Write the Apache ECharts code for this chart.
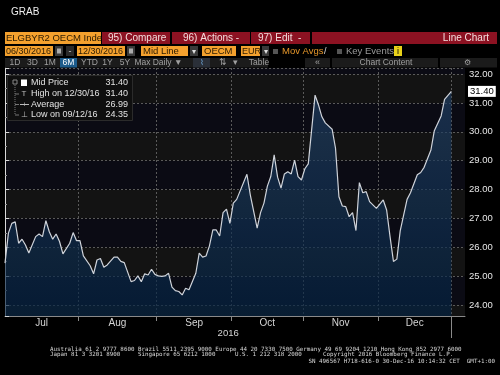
<!DOCTYPE html>
<html><head><meta charset="utf-8">
<script src="https://cdn.jsdelivr.net/npm/echarts@6/dist/echarts.min.js"></script>
<style>html,body{margin:0;padding:0;background:#000;}#c{width:500px;height:375px;}</style>
</head><body><div id="c"></div>
<script>
// trading-day index (0 = 06/30/2016, 131 = 12/30/2016) and mid price
const dayIndex = [0,1,2,3,4,5,6,7,9,10,11,12,13,14,15,16,17,19,20,21,22,23,25,26,27,28,29,30,32,33,34,35,37,38,39,40,41,42,43,44,45,46,47,48,49,50,51,52,53,54,56,57,58,59,60,61,62,63,64,65,66,67,68,71,72,74,75,76,77,78,79,80,81,82,83,84,85,86,87,88,89,91,92,93,94,96,97,98,99,100,101,102,103,104,105,106,107,109,111,112,113,114,115,116,118,119,121,122,123,125,126,128,129,131];
const midPrice = [25.45,26.49,26.83,26.88,26.14,26.28,26.08,25.80,26.37,26.46,26.37,26.92,26.54,26.28,26.46,26.20,25.77,26.14,26.51,26.23,26.23,25.70,25.36,25.08,25.56,25.61,25.31,25.39,25.66,25.66,25.51,25.47,24.81,24.85,25.01,24.81,25.08,25.04,25.24,25.06,25.01,24.99,25.01,25.10,24.62,24.50,24.47,24.35,24.58,24.53,25.10,25.80,25.66,25.70,26.05,26.60,26.60,26.39,27.20,27.32,26.83,27.53,27.66,28.53,27.81,26.66,27.20,27.53,28.12,28.45,29.20,28.43,28.05,28.54,28.62,28.54,29.02,28.45,28.33,28.72,28.89,31.27,30.93,30.52,30.31,30.09,29.43,27.75,27.43,27.41,27.06,27.20,26.58,28.24,27.89,27.93,27.58,27.35,27.64,27.29,26.37,25.51,25.59,26.58,27.66,27.89,28.51,28.59,28.77,29.37,30.04,30.55,31.12,31.40];
const monthNames = ['Jul','Aug','Sep','Oct','Nov','Dec'];
const monthBounds = [0,21.5,44.5,66.5,87.5,109.5,131];
const yearLabel = '2016';
const statsLabels = ['Mid Price','High on 12/30/16','Average','Low on 09/12/16'];
const statsValues = ['31.40','31.40','26.99','24.35'];

const monthMids = monthNames.map((m,i)=>(monthBounds[i]+monthBounds[i+1])/2);
const lastVal = midPrice[midPrice.length-1];

const FONT = 'Liberation Sans';
function box(x,y,w,h,fill,stroke){return {type:'rect',silent:true,z:100,shape:{x:x,y:y,width:w,height:h},style:{fill:fill,stroke:stroke||null,lineWidth:1}};}
function txt(x,y,s,color,size,align,font){return {type:'text',silent:true,z:101,x:x,y:y,style:{text:s,fill:color,fontSize:size,fontFamily:font||FONT,align:align||'left',verticalAlign:'middle'}};}
function seg(x1,y1,x2,y2,color,dash){return {type:'line',silent:true,z:101,shape:{x1:x1,y1:y1,x2:x2,y2:y2},style:{stroke:color,lineWidth:1,lineDash:dash||null}};}

const OR='#f4a12e', RED='#8c1222', DK='#2a1a00', BTN='#1b1b1b', BT='#a0a0a0';
const g = [];
g.push(txt(11,12.5,'GRAB','#eeeeee',10));
// row 1
g.push(box(5,32,96,12,OR), txt(6,38.5,'ELGBYR2 OECM Inde',DK,9.5));
g.push(box(102,32,68,12,RED), txt(108,38.5,'95) Compare','#f3dede',10));
g.push(box(172,32,78,12,RED), txt(183,38.5,'96) Actions -','#f3dede',10));
g.push(box(251,32,59,12,RED), txt(258,38.5,'97) Edit  -','#f3dede',10));
g.push(box(312,32,185,12,RED), txt(489,38.5,'Line Chart','#f3dede',10,'right'));
// row 2
g.push(box(5,46,48,10,OR), txt(6,51.5,'06/30/2016',DK,9));
g.push(box(55,46,8,10,'#3a3a3a'), box(57,48.5,4,5,'#aaaaaa'));
g.push(box(66,46,8,10,'#2a2a2a'), txt(70,51.5,'-','#cccccc',9,'center'));
g.push(box(77,46,48,10,OR), txt(78,51.5,'12/30/2016',DK,9));
g.push(box(127,46,8,10,'#3a3a3a'), box(129,48.5,4,5,'#aaaaaa'));
g.push(box(141,46,47,10,OR), txt(143,51.5,'Mid Line',DK,9.5));
g.push(box(190,46,8,10,'#3a3a3a'), txt(194,51.5,'▾','#dddddd',8,'center'));
g.push(box(202,46,34,10,OR), txt(204,51.5,'OECM',DK,9.5));
g.push(box(241,46,19,10,OR), txt(242,51.5,'EUR',DK,9));
g.push(box(262,46,7,10,'#3a3a3a'), txt(265.5,51.5,'▾','#dddddd',8,'center'));
g.push(box(273,49,5,5,'#555555'), txt(282,51.5,'Mov Avgs','#e5962a',9.5), txt(324,51.5,'/','#dddddd',9));
g.push(box(337,49,5,5,'#555555'), txt(346,51.5,'Key Events','#9a9a9a',9.5));
g.push(box(394,46,8,10,'#e8d21a'), txt(398,51.5,'i','#000000',9,'center'));
// row 3
g.push(box(5,58,245,9.5,BTN));
[['1D',15],['3D',32.5],['1M',50],['YTD',89.5],['1Y',107.5],['5Y',125],['Max',142.5],['Daily ▼',167.5],['⇅',223],['▾',235.5]].forEach(function(b){g.push(txt(b[1],63,b[0],BT,8.5,'center'));});
g.push(box(60,58,17,9.5,'#1d5c8c'), txt(68.5,63,'6M','#ffffff',8.5,'center'));
g.push(box(193,58,17,9.5,'#2a2f38'), txt(201.5,63,'⌇','#6fa8dc',8,'center'));
g.push(box(250,58,18,9.5,BTN), txt(259,63,'Table',BT,8.5,'center'));
g.push(box(305,58,25,9.5,BTN), txt(317.5,63,'«',BT,9,'center'));
g.push(box(332,58,106,9.5,BTN), txt(386,63,'Chart Content',BT,8.5,'center'));
g.push(box(440,58,57,9.5,BTN), txt(467,63,'⚙',BT,8,'center'));
// legend panel
g.push(box(7.5,75.5,125,45,'#0f0f0f','#2b2b2b'));
g.push(box(13,80,4,4,null,'#888888'), seg(15,85,15,115,'#777777',[1,1]));
g.push(box(21,79.5,6,6.5,'#ffffff'));
[94,104.5,115].forEach(function(y){g.push(seg(15,y,19,y,'#777777'));});
g.push(txt(24,94,'T','#bbbbbb',8,'center'));
g.push(seg(20,104.5,29,104.5,'#bbbbbb'), txt(24.5,104.5,'+','#bbbbbb',8,'center'));
g.push(txt(24,115,'⊥','#bbbbbb',8,'center'));
statsLabels.forEach(function(s,i){
  const y=[83,94,104.5,115][i];
  g.push(txt(31,y,s,'#e2e2e2',9));
  g.push(txt(128,y,statsValues[i],'#e2e2e2',9,'right'));
});
// footer
const MONO='DejaVu Sans Mono', FC='#d8d8d8', FS=5.85;
g.push(txt(50,349,'Australia 61 2 9777 8600 Brazil 5511 2395 9000 Europe 44 20 7330 7500 Germany 49 69 9204 1210 Hong Kong 852 2977 6000',FC,FS,'left',MONO));
g.push(txt(50,354.5,'Japan 81 3 3201 8900',FC,FS,'left',MONO));
g.push(txt(138,354.5,'Singapore 65 6212 1000',FC,FS,'left',MONO));
g.push(txt(235,354.5,'U.S. 1 212 318 2000',FC,FS,'left',MONO));
g.push(txt(323,354.5,'Copyright 2016 Bloomberg Finance L.P.',FC,FS,'left',MONO));
g.push(txt(495,361,'SN 496567 H718-616-0 30-Dec-16 10:14:32 CET  GMT+1:00',FC,FS,'right',MONO));

const chart = echarts.init(document.getElementById('c'));
chart.setOption({
  backgroundColor:'#000000',
  animation:false,
  grid:{left:5,right:35,top:68,bottom:59},
  xAxis:[{
    type:'value',min:0,max:135,position:'bottom',
    axisLine:{show:true,onZero:false,lineStyle:{color:'#8a8a8a'}},
    axisTick:{show:true,customValues:monthBounds.slice(1),length:5,lineStyle:{color:'#8a8a8a'}},
    axisLabel:{customValues:monthMids,color:'#d4d4d4',fontSize:10,fontFamily:FONT,margin:2,
      formatter:function(v){let k=0,b=1e9;monthMids.forEach(function(m,i){if(Math.abs(m-v)<b){b=Math.abs(m-v);k=i;}});return monthNames[k];}},
    splitLine:{show:true,lineStyle:{color:'#5a5a5a',type:[2,2]}}
  },{
    type:'value',min:0,max:135,position:'bottom',
    axisLine:{show:false},
    axisTick:{show:true,customValues:[monthBounds[monthBounds.length-1]],length:22,lineStyle:{color:'#8a8a8a'}},
    axisLabel:{customValues:[(monthBounds[0]+monthBounds[monthBounds.length-1])/2],formatter:function(){return yearLabel;},color:'#d4d4d4',fontSize:9.5,fontFamily:FONT,margin:12},
    splitLine:{show:false}
  }],
  yAxis:{
    type:'value',position:'right',min:23.62,max:32.21,splitNumber:8,
    axisLine:{show:true,lineStyle:{color:'#d8d8d8'}},
    axisTick:{show:true,length:4,lineStyle:{color:'#d8d8d8'}},
    minorTick:{show:true,splitNumber:2,length:2,lineStyle:{color:'#999999'}},
    axisLabel:{color:'#e6e6e6',fontSize:9.5,fontFamily:FONT,margin:4,showMinLabel:false,showMaxLabel:false,
      formatter:function(v){return v.toFixed(2);}},
    splitLine:{show:true,lineStyle:{color:'#5a5a5a',type:[2,2]}},
    splitArea:{show:true,areaStyle:{color:['#131313','#0b0b14']}}
  },
  series:[{
    type:'line',xAxisIndex:0,
    data:dayIndex.map(function(d,i){return [d,midPrice[i]];}),
    symbol:'none',
    lineStyle:{color:'#cfd3da',width:1.2},
    areaStyle:{color:new echarts.graphic.LinearGradient(0,0,0,1,[{offset:0,color:'rgba(34,66,104,0.93)'},{offset:1,color:'rgba(3,34,66,0.96)'}])},
    markPoint:{symbol:'rect',symbolSize:0,silent:true,
      data:[{coord:[135,lastVal],value:lastVal}],
      label:{show:true,position:'right',distance:3,formatter:function(p){return p.value.toFixed(2);},
        backgroundColor:'#ffffff',color:'#000000',fontSize:9.5,fontFamily:FONT,padding:[1,2,0,2]}}
  }],
  graphic:g
});
</script></body></html>
